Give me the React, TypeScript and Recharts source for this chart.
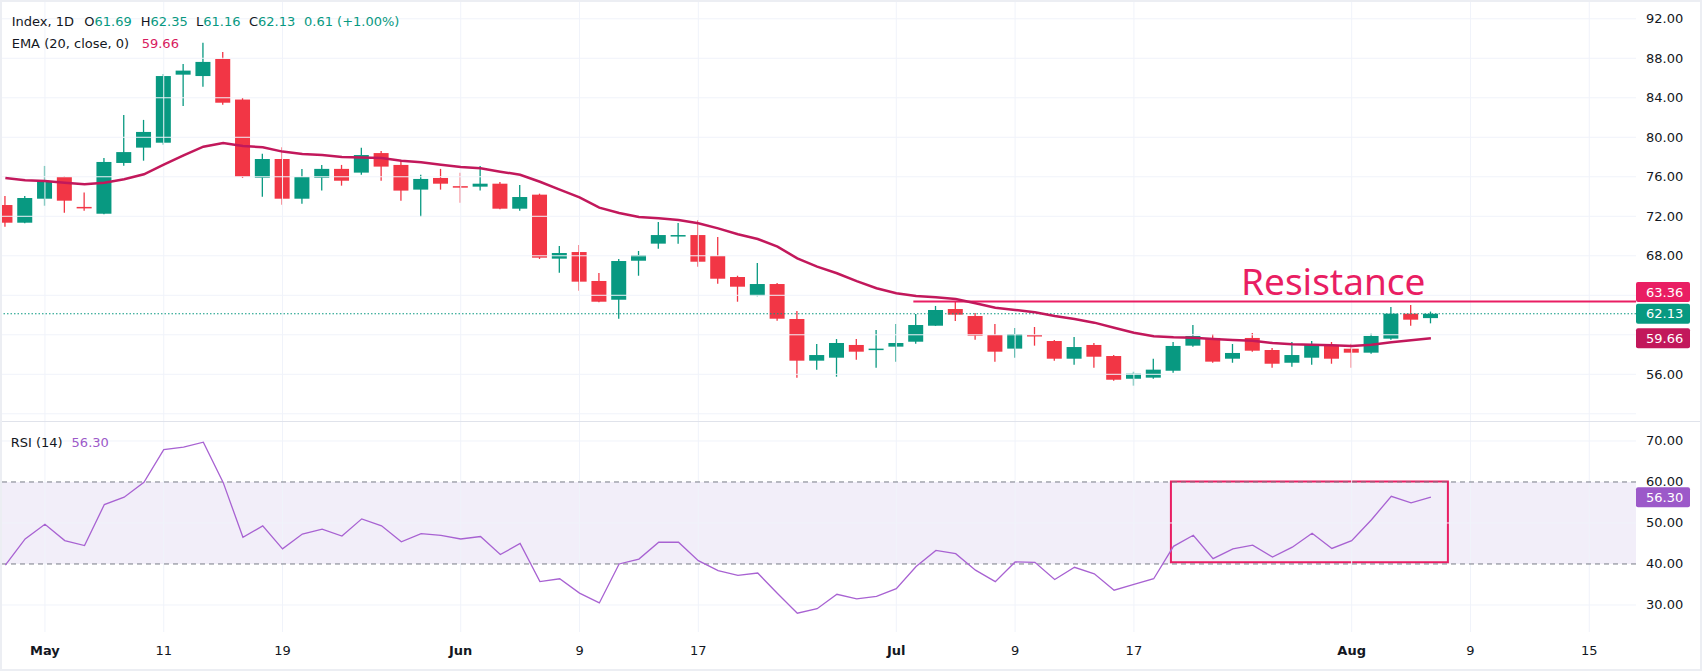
import {
  Bar,
  ComposedChart,
  Line,
  ReferenceArea,
  ReferenceLine,
  XAxis,
  YAxis,
} from "recharts";

// daily OHLC, one entry per session (Apr 29 -> Aug 7)
const opens = [
  73.14, 71.35, 73.78, 75.98, 72.95, 72.26, 77.4, 78.95, 79.45, 86.34,
  86.2, 87.93, 83.82, 75.9, 77.8, 73.78, 75.9, 76.8, 76.42, 78.4,
  77.2, 74.7, 75.88, 75.05, 75.0, 75.3, 72.77, 74.19, 67.71, 68.38,
  65.45, 63.55, 67.5, 69.23, 70.05, 70.1, 67.98, 65.85, 63.96, 65.14,
  61.6, 57.38, 57.68, 58.97, 58.5, 58.8, 59.3, 60.92, 62.61, 61.9,
  59.98, 58.6, 59.98, 59.37, 57.58, 58.97, 57.85, 55.55, 55.66, 56.36,
  58.9, 59.68, 57.58, 59.68, 58.46, 57.17, 57.68, 58.97, 58.59, 58.19,
  59.61, 62.14, 61.69,
];
const highs = [
  74.06, 74.06, 77.1, 76.05, 74.4, 77.9, 82.26, 81.76, 86.4, 87.42,
  89.58, 88.64, 83.98, 78.34, 79.0, 76.8, 77.2, 77.2, 78.95, 78.6,
  77.7, 76.2, 76.8, 76.42, 77.1, 75.47, 75.17, 74.29, 68.99, 69.09,
  66.26, 67.68, 68.49, 71.42, 71.32, 71.6, 69.9, 65.98, 67.27, 65.25,
  62.41, 59.07, 59.57, 59.57, 60.49, 61.09, 62.1, 62.92, 63.32, 62.21,
  61.09, 60.69, 60.79, 59.47, 59.78, 59.17, 57.95, 56.26, 57.58, 59.27,
  60.99, 60.08, 59.07, 60.18, 58.66, 59.27, 59.37, 59.27, 59.1, 60.11,
  62.82, 63.02, 62.35,
];
const lows = [
  70.95, 71.3, 73.07, 72.37, 72.55, 72.2, 77.12, 77.63, 79.25, 83.17,
  85.12, 83.3, 75.88, 73.98, 73.17, 73.28, 74.6, 75.1, 76.2, 75.6,
  73.58, 71.96, 74.7, 73.38, 74.6, 72.7, 72.57, 67.68, 66.29, 64.47,
  63.3, 61.63, 65.98, 68.72, 69.23, 66.9, 65.17, 63.35, 63.9, 61.43,
  55.66, 56.47, 55.76, 57.48, 56.67, 57.28, 59.1, 60.9, 61.4, 59.5,
  57.28, 57.68, 58.9, 57.38, 56.97, 56.67, 55.35, 54.85, 55.55, 56.16,
  58.8, 57.17, 57.17, 58.29, 56.67, 56.77, 56.97, 57.07, 56.67, 58.09,
  59.5, 60.92, 61.16,
];
const closes = [
  71.35, 73.85, 75.54, 73.58, 72.85, 77.5, 78.5, 80.54, 86.2, 86.75,
  87.63, 83.5, 76.0, 77.8, 73.78, 75.98, 76.8, 75.6, 78.2, 77.03,
  74.6, 75.78, 75.3, 74.98, 75.3, 72.77, 73.95, 67.81, 68.28, 65.38,
  63.35, 67.47, 68.08, 70.1, 70.1, 67.4, 65.68, 64.87, 65.14, 61.63,
  57.38, 57.95, 59.17, 58.29, 58.6, 59.17, 60.99, 62.51, 62.04, 59.91,
  58.29, 60.08, 59.85, 57.58, 58.76, 57.78, 55.45, 56.06, 56.47, 58.87,
  59.88, 57.28, 58.16, 58.39, 57.07, 57.95, 59.07, 57.58, 58.19, 59.88,
  62.14, 61.53, 62.13,
];
// EMA(20, close) as drawn
const ema20 = [
  75.88, 75.65, 75.57, 75.4, 75.24, 75.4, 75.75, 76.25, 77.22, 78.17,
  79.05, 79.42, 79.12, 78.99, 78.55, 78.3, 78.2, 78.0, 77.94, 77.9,
  77.63, 77.47, 77.22, 76.99, 76.86, 76.52, 76.21, 75.5, 74.7, 73.92,
  72.87, 72.33, 71.93, 71.8, 71.63, 71.29, 70.78, 70.18, 69.7, 68.92,
  67.74, 66.9, 66.23, 65.43, 64.72, 64.2, 63.93, 63.8, 63.63, 63.19,
  62.74, 62.51, 62.28, 61.9, 61.6, 61.23, 60.72, 60.21, 59.85, 59.75,
  59.71, 59.57, 59.47, 59.4, 59.17, 59.04, 59.0, 58.95, 58.87, 59.0,
  59.25, 59.45, 59.66,
];
// RSI(14)
const rsi14 = [
  39.7, 46.1, 49.7, 45.7, 44.5, 54.5, 56.3, 59.9, 67.9, 68.5,
  69.7, 59.9, 46.5, 49.3, 43.7, 47.3, 48.5, 46.8, 51.0, 49.3,
  45.4, 47.4, 47.0, 46.1, 46.7, 42.3, 45.0, 35.7, 36.4, 32.9,
  30.5, 40.0, 41.2, 45.3, 45.3, 40.8, 38.4, 37.2, 37.8, 32.8,
  28.0, 29.1, 32.6, 31.5, 32.1, 34.0, 39.4, 43.3, 42.5, 38.5,
  35.7, 40.5, 40.4, 36.2, 39.2, 37.6, 33.6, 35.0, 36.4, 44.3,
  47.0, 41.3, 43.7, 44.6, 41.7, 44.1, 47.5, 43.8, 45.7, 50.8,
  56.5, 54.9, 56.3,
];

// session index of each date label (the last two are in the future)
const tickIdx = [2, 8, 14, 23, 29, 35, 45, 51, 57, 68, 74, 80];
const tickLabels = ["May", "11", "19", "Jun", "9", "17", "Jul", "9", "17", "Aug", "9", "15"];
const priceTicks = [52, 56, 60, 64, 68, 72, 76, 80, 84, 88, 92];
// labels covered by the price tags on the axis
const coveredPriceTicks = [60, 64];
const rsiTicks = [30, 40, 50, 60, 70];

const RESISTANCE = 63.36;
const LAST = 62.13;
const EMA_LAST = 59.66;
const RSI_LAST = 56.3;
const RESIST_FROM = 45.86;
const BOX = { x1: 58.87, x2: 72.86, y1: 40.4, y2: 60.1 };

const UP = "#089981";
const DOWN = "#f23645";
const GRID = "#f0f3fa";
const TEXT = "#131722";
const PINK = "#e91e63";
const EMA_C = "#c2185b";
const RSI_C = "#a862d2";
const FONT = "'DejaVu Sans', sans-serif";

const X_DOMAIN: [number, number] = [-0.27, 82.36];
const PRICE_DOMAIN: [number, number] = [51.17, 93.9];
const RSI_DOMAIN: [number, number] = [23.41, 74.63];

const rows = opens.map((o, i) => ({
  i,
  o,
  h: highs[i],
  l: lows[i],
  c: closes[i],
  ema: ema20[i],
}));
const rsiRows = rsi14.map((r, i) => ({ i, rsi: r }));

function Candle(props: any) {
  const { x, y, width, height, payload } = props;
  const { o, h, l, c } = payload;
  const color = c >= o ? UP : DOWN;
  const ppu = h === l ? 0 : height / (h - l);
  const cx = x + width / 2;
  const top = y + (h - Math.max(o, c)) * ppu;
  const bot = y + (h - Math.min(o, c)) * ppu;
  return (
    <g>
      <line x1={cx} x2={cx} y1={y} y2={y + height} stroke={color} strokeWidth={1.3} />
      <rect x={cx - 7.5} y={top} width={15} height={Math.max(bot - top, 1.5)} fill={color} />
    </g>
  );
}

const axisTick = (hidden: number[]) => (p: any) => {
  const v = Number(p.payload.value);
  if (hidden.includes(v)) return <g />;
  return (
    <text x={1646} y={p.y} dy={4.5} fill={TEXT} fontSize={13} fontFamily={FONT}>
      {v.toFixed(2)}
    </text>
  );
};

const dateTick = (p: any) => {
  const label = tickLabels[tickIdx.indexOf(p.payload.value)] ?? "";
  const month = isNaN(Number(label));
  return (
    <text
      x={p.x}
      y={232.5}
      textAnchor="middle"
      fill={TEXT}
      fontSize={13}
      fontWeight={month ? 700 : 400}
      fontFamily={FONT}
    >
      {label}
    </text>
  );
};

const tag = (bg: string, text: string, nudge = 0) => (p: any) => {
  const vb = p.viewBox || {};
  const right = (vb.x ?? 0) + (vb.width ?? 0);
  const cy = (vb.y ?? 0) + nudge;
  return (
    <g>
      <rect x={right} y={cy - 10} width={54} height={20} rx={2} fill={bg} />
      <text x={right + 10} y={cy} dy={4.5} fill="#fff" fontSize={13} fontFamily={FONT}>
        {text}
      </text>
    </g>
  );
};

const resistanceText = (p: any) => {
  const vb = p.viewBox || {};
  return (
    <text
      x={(vb.x ?? 0) + (vb.width ?? 0) - 395}
      y={(vb.y ?? 0) - 7}
      fill={PINK}
      fontSize={37}
      fontFamily="'Noto Sans', sans-serif"
    >
      Resistance
    </text>
  );
};

export default function App() {
  return (
    <div
      style={{
        position: "absolute",
        left: 0,
        top: 0,
        width: 1702,
        height: 671,
        background: "#fff",
        overflow: "hidden",
      }}
    >
      <div style={{ position: "absolute", left: 0, top: 0 }}>
        <ComposedChart width={1702} height={422} data={rows} margin={{ top: 0, right: 0, bottom: 0, left: 0 }}>
          <XAxis type="number" dataKey="i" domain={X_DOMAIN} allowDataOverflow hide />
          <YAxis
            orientation="right"
            width={66}
            domain={PRICE_DOMAIN}
            ticks={priceTicks}
            allowDataOverflow
            axisLine={false}
            tickLine={false}
            tick={axisTick(coveredPriceTicks)}
          />
          {tickIdx.map((t) => (
            <ReferenceLine key={`vx${t}`} x={t} stroke={GRID} strokeWidth={1} />
          ))}
          {priceTicks.map((t) => (
            <ReferenceLine key={`hy${t}`} y={t} stroke={GRID} strokeWidth={1} />
          ))}
          <ReferenceLine y={LAST} stroke={UP} strokeWidth={1} strokeDasharray="1.5 2" />
          <ReferenceLine
            segment={[
              { x: RESIST_FROM, y: RESISTANCE },
              { x: X_DOMAIN[1], y: RESISTANCE },
            ]}
            stroke={PINK}
            strokeWidth={2}
            label={resistanceText}
          />
          <Bar
            dataKey={(d: any) => [d.l, d.h]}
            barSize={15}
            shape={Candle}
            isAnimationActive={false}
          />
          <Line
            type="linear"
            dataKey="ema"
            stroke={EMA_C}
            strokeWidth={2.5}
            dot={false}
            activeDot={false}
            isAnimationActive={false}
          />
          <ReferenceLine y={RESISTANCE} stroke="none" label={tag(PINK, "63.36", -9.6)} />
          <ReferenceLine y={LAST} stroke="none" label={tag(UP, "62.13")} />
          <ReferenceLine y={EMA_LAST} stroke="none" label={tag(EMA_C, "59.66")} />
        </ComposedChart>
      </div>

      <div style={{ position: "absolute", left: 0, top: 422 }}>
        <ComposedChart width={1702} height={249} data={rsiRows} margin={{ top: 0, right: 0, bottom: 0, left: 0 }}>
          <XAxis
            type="number"
            dataKey="i"
            domain={X_DOMAIN}
            allowDataOverflow
            ticks={tickIdx}
            interval={0}
            height={39}
            axisLine={false}
            tickLine={false}
            tick={dateTick}
          />
          <YAxis
            orientation="right"
            width={66}
            domain={RSI_DOMAIN}
            ticks={rsiTicks}
            allowDataOverflow
            axisLine={false}
            tickLine={false}
            tick={axisTick([])}
          />
          {tickIdx.map((t) => (
            <ReferenceLine key={`rvx${t}`} x={t} stroke={GRID} strokeWidth={1} />
          ))}
          {[30, 50, 70].map((t) => (
            <ReferenceLine key={`rhy${t}`} y={t} stroke={GRID} strokeWidth={1} />
          ))}
          <ReferenceArea y1={40} y2={60} fill="#7e57c2" fillOpacity={0.1} stroke="none" />
          <ReferenceLine y={60} stroke="#787b86" strokeDasharray="5 4" strokeWidth={1} />
          <ReferenceLine y={40} stroke="#787b86" strokeDasharray="5 4" strokeWidth={1} />
          <ReferenceArea
            x1={BOX.x1}
            x2={BOX.x2}
            y1={BOX.y1}
            y2={BOX.y2}
            fill="none"
            stroke={PINK}
            strokeWidth={2}
          />
          <Line
            type="linear"
            dataKey="rsi"
            stroke={RSI_C}
            strokeWidth={1.3}
            dot={false}
            activeDot={false}
            isAnimationActive={false}
          />
          <ReferenceLine y={RSI_LAST} stroke="none" label={tag("#9c59c9", "56.30")} />
        </ComposedChart>
      </div>

      <div style={{ position: "absolute", left: 0, top: 421, width: 1702, height: 1, background: "#e0e3eb" }} />

      <svg
        width={1702}
        height={671}
        style={{ position: "absolute", left: 0, top: 0, pointerEvents: "none" }}
        fontFamily={FONT}
        fontSize={13}
      >
        <text y={26}>
          <tspan x={11.7} fill={TEXT}>Index, 1D</tspan>
          <tspan x={84.3} fill={TEXT}>O</tspan>
          <tspan fill={UP}>61.69</tspan>
          <tspan x={140.7} fill={TEXT}>H</tspan>
          <tspan fill={UP}>62.35</tspan>
          <tspan x={196} fill={TEXT}>L</tspan>
          <tspan fill={UP}>61.16</tspan>
          <tspan x={249} fill={TEXT}>C</tspan>
          <tspan fill={UP}>62.13</tspan>
          <tspan x={304} fill={UP}>0.61 (+1.00%)</tspan>
        </text>
        <text y={47.5}>
          <tspan x={11.7} fill={TEXT}>EMA (20, close, 0)</tspan>
          <tspan x={141.7} fill="#d81b60">59.66</tspan>
        </text>
        <text y={446.5}>
          <tspan x={10.7} fill={TEXT}>RSI (14)</tspan>
          <tspan x={71.6} fill="#9c59c9">56.30</tspan>
        </text>
      </svg>

      <div
        style={{
          position: "absolute",
          left: 0,
          top: 0,
          width: 1702,
          height: 671,
          boxSizing: "border-box",
          border: "2px solid #eceef3",
          pointerEvents: "none",
        }}
      />
    </div>
  );
}
